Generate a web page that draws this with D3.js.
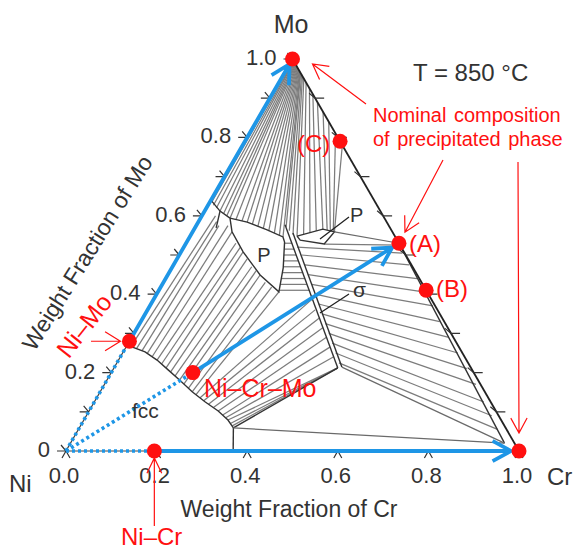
<!DOCTYPE html>
<html>
<head>
<meta charset="utf-8">
<script src="https://cdn.jsdelivr.net/npm/d3@7"></script>
<style>
  body { margin: 0; background: #fff; }
  svg { font-family: "Liberation Sans", Arial, sans-serif; }
</style>
</head>
<body>
<svg width="576" height="551"></svg>
<script>
// compositions are [Cr fraction, Mo fraction]
const crTicks = [0, 0.2, 0.4, 0.6, 0.8, 1.0];
const crTickLabels = ['0.0', '0.2', '0.4', '0.6', '0.8', '1.0'];
const moTicks = [0, 0.1, 0.2, 0.3, 0.4, 0.5, 0.6, 0.7, 0.8, 0.9, 1.0];
const moLabelTicks = [0, 0.2, 0.4, 0.6, 0.8, 1.0];
const moTickLabels = ['0', '0.2', '0.4', '0.6', '0.8', '1.0'];
const edgeTicks = [0.1, 0.2, 0.3, 0.4, 0.5, 0.6, 0.7, 0.8, 0.9];

// phase boundaries
const fccBoundary = [[0, 0.27], [0.048, 0.253], [0.085, 0.232], [0.122, 0.207], [0.163, 0.179],
  [0.203, 0.151], [0.245, 0.125], [0.285, 0.102], [0.318, 0.079], [0.34, 0.059]];
const fccBottom = [[0.34, 0.059], [0.369, 0]];
const fccBcc = [[0.34, 0.059], [0.958, 0.02]];
const pLeft = [[0.065, 0.594], [0.108, 0.584], [0.162, 0.564], [0.206, 0.546], [0.216, 0.533],
  [0.246, 0.467], [0.267, 0.406], [0.204, 0.449], [0.137, 0.508], [0.087, 0.559], [0.065, 0.594]];
const pRight = [[0.236, 0.548], [0.284, 0.566], [0.313, 0.559], [0.306, 0.528], [0.248, 0.538], [0.236, 0.548]];
const muStrip = [[0, 0.64], [0.034, 0.612], [0.065, 0.594]];
const muStrip2 = [[0.034, 0.612], [0.047, 0.569]];
const sigmaLeft = [[0.195, 0.577], [0.494, 0.212]];
const sigmaRight = [[0.223, 0.556], [0.502, 0.214]];
const sigmaFcc = [[0.494, 0.212], [0.34, 0.059]];
const sigmaBcc = [[0.502, 0.214], [0.958, 0.02]];
const bccBoundary = [[0.47, 0.53], [0.958, 0.02]];
const pRightBcc = [[0.313, 0.559], [0.47, 0.53]];

// tie lines [cr1, mo1, cr2, mo2]
const apexTies = [
  [0.003, 0.997, 0.004, 0.635], [0.005, 0.995, 0.012, 0.627], [0.006, 0.994, 0.022, 0.62],
  [0.008, 0.992, 0.034, 0.612], [0.01, 0.99, 0.045, 0.606], [0.012, 0.988, 0.055, 0.6],
  [0.014, 0.986, 0.065, 0.594], [0.016, 0.984, 0.08, 0.59], [0.018, 0.982, 0.095, 0.587],
  [0.02, 0.98, 0.108, 0.584], [0.022, 0.978, 0.122, 0.579], [0.024, 0.976, 0.137, 0.573],
  [0.026, 0.974, 0.152, 0.567], [0.028, 0.972, 0.167, 0.561], [0.03, 0.97, 0.182, 0.556],
  [0.032, 0.968, 0.196, 0.55], [0.034, 0.966, 0.206, 0.546], [0.036, 0.964, 0.2, 0.572],
  [0.04, 0.96, 0.212, 0.562], [0.044, 0.956, 0.225, 0.552], [0.05, 0.95, 0.236, 0.548],
  [0.06, 0.94, 0.248, 0.553], [0.075, 0.925, 0.26, 0.557], [0.09, 0.91, 0.272, 0.561],
  [0.11, 0.89, 0.284, 0.566], [0.135, 0.865, 0.295, 0.563], [0.16, 0.84, 0.303, 0.561],
  [0.19, 0.81, 0.31, 0.56], [0.22, 0.78, 0.313, 0.559]
];
const fccTies = [
  [0.01, 0.267, 0.03, 0.6], [0.025, 0.262, 0.04, 0.585], [0.04, 0.256, 0.05, 0.575],
  [0.055, 0.249, 0.07, 0.575], [0.07, 0.241, 0.087, 0.559], [0.085, 0.232, 0.11, 0.53],
  [0.1, 0.222, 0.125, 0.52], [0.115, 0.212, 0.137, 0.508], [0.13, 0.202, 0.155, 0.49],
  [0.145, 0.191, 0.175, 0.47], [0.16, 0.181, 0.19, 0.46], [0.175, 0.171, 0.204, 0.449],
  [0.19, 0.16, 0.225, 0.43], [0.203, 0.151, 0.245, 0.418], [0.215, 0.144, 0.267, 0.406],
  [0.228, 0.136, 0.35, 0.388], [0.24, 0.128, 0.37, 0.36], [0.255, 0.119, 0.39, 0.34],
  [0.27, 0.111, 0.41, 0.315], [0.285, 0.102, 0.43, 0.29], [0.3, 0.092, 0.45, 0.265],
  [0.31, 0.085, 0.47, 0.24], [0.318, 0.079, 0.494, 0.212], [0.328, 0.07, 0.494, 0.212],
  [0.335, 0.064, 0.494, 0.212]
];
const ladderTies = [
  [0.217, 0.53, 0.234, 0.53], [0.224, 0.515, 0.246, 0.515], [0.231, 0.5, 0.258, 0.5],
  [0.238, 0.485, 0.27, 0.485], [0.245, 0.47, 0.283, 0.47], [0.25, 0.455, 0.295, 0.455],
  [0.255, 0.44, 0.307, 0.44], [0.26, 0.425, 0.319, 0.425], [0.266, 0.41, 0.332, 0.41]
];
const bccTies = [
  [0.306, 0.528, 0.475, 0.525], [0.25, 0.52, 0.49, 0.505], [0.27, 0.5, 0.52, 0.475],
  [0.29, 0.475, 0.555, 0.44], [0.31, 0.45, 0.59, 0.405], [0.33, 0.425, 0.625, 0.37],
  [0.35, 0.4, 0.66, 0.33], [0.37, 0.375, 0.7, 0.29], [0.39, 0.35, 0.74, 0.25],
  [0.41, 0.325, 0.78, 0.21], [0.43, 0.3, 0.82, 0.17], [0.45, 0.275, 0.86, 0.125],
  [0.47, 0.25, 0.895, 0.09], [0.49, 0.225, 0.925, 0.055]
];

// alloy paths and nominal compositions
const niPoint = [0, 0];
const niMo = [0, 0.28];
const niCr = [0.195, 0];
const niCrMo = [0.18, 0.2];
const moPoint = [0, 1];
const crPoint = [1, 0];
const phaseA = [0.47, 0.53];
const phaseB = [0.59, 0.41];
const phaseC = [0.21, 0.79];
const redDots = [moPoint, phaseC, phaseA, phaseB, crPoint, niMo, niCr, niCrMo];

const svg = d3.select('svg');
const xScale = d3.scaleLinear().domain([0, 1]).range([66, 519]);
const yScale = d3.scaleLinear().domain([0, 1]).range([451, 59]);
const P = d => [xScale(d[0] + d[1] / 2), yScale(d[1])];
const line = d3.line();
const poly = pts => line(pts.map(P));

const BLUE = '#1e96e6', RED = '#ff1010', INK = '#333';

// tie lines
const ties = svg.append('g').attr('stroke', '#7c7c7c').attr('stroke-width', 1.25).attr('fill', 'none');
[apexTies, fccTies, ladderTies, bccTies].forEach(set => {
  ties.selectAll(null).data(set).enter().append('path')
    .attr('d', d => poly([[d[0], d[1]], [d[2], d[3]]]));
});

// phase boundaries
const bounds = svg.append('g').attr('stroke', '#333').attr('stroke-width', 1.4).attr('fill', 'none');
[fccBoundary, fccBottom, pLeft, pRight, muStrip, muStrip2, sigmaLeft, sigmaRight, sigmaFcc, bccBoundary]
  .forEach(b => bounds.append('path').attr('d', poly(b)));
[fccBcc, sigmaBcc, pRightBcc].forEach(b =>
  bounds.append('path').attr('d', poly(b)).attr('stroke', '#6a6a6a').attr('stroke-width', 1.2));

// triangle
svg.append('path').attr('d', poly([moPoint, niPoint, crPoint]))
  .attr('fill', 'none').attr('stroke', '#444').attr('stroke-width', 1.2);
svg.append('path').attr('d', poly([moPoint, crPoint]))
  .attr('fill', 'none').attr('stroke', '#222').attr('stroke-width', 1.8);

// ticks
const tickG = svg.append('g').attr('stroke', INK).attr('stroke-width', 1.2).attr('fill', 'none');
tickG.selectAll(null).data(crTicks).enter().append('path')
  .attr('d', c => { const [x, y] = P([c, 0]); return `M${x - 4},${y + 7}L${x},${y}L${x + 4},${y + 7}`; });
tickG.selectAll(null).data(moTicks).enter().append('path')
  .attr('d', m => { const [x, y] = P([0, m]); return `M${x - 9},${y}L${x},${y}M${x},${y}L${x - 5},${y - 6}`; });
tickG.selectAll(null).data(edgeTicks).enter().append('path')
  .attr('d', m => { const [x, y] = P([1 - m, m]); return `M${x + 9},${y}L${x},${y}L${x - 6},${y - 5}`; });

const txt = svg.append('g').attr('fill', INK);
txt.selectAll(null).data(crTicks).enter().append('text')
  .attr('x', c => P([c, 0])[0] - 2).attr('y', 483)
  .attr('text-anchor', 'middle').attr('font-size', 22)
  .text((c, i) => crTickLabels[i]);
txt.selectAll(null).data(moLabelTicks).enter().append('text')
  .attr('x', m => P([0, m])[0] - 16).attr('y', m => P([0, m])[1] + 6)
  .attr('text-anchor', 'end').attr('font-size', 22)
  .text((m, i) => moTickLabels[i]);

// blue alloy paths
function arrow(g, a, b, len, ang, color, width, shorten) {
  const t = Math.atan2(b[1] - a[1], b[0] - a[0]);
  const x2 = b[0] - shorten * Math.cos(t), y2 = b[1] - shorten * Math.sin(t);
  const p = d3.path();
  p.moveTo(a[0], a[1]); p.lineTo(x2, y2);
  p.moveTo(x2 - len * Math.cos(t - ang), y2 - len * Math.sin(t - ang));
  p.lineTo(x2, y2);
  p.lineTo(x2 - len * Math.cos(t + ang), y2 - len * Math.sin(t + ang));
  g.append('path').attr('d', p.toString()).attr('fill', 'none')
    .attr('stroke', color).attr('stroke-width', width)
    .attr('stroke-linejoin', 'miter').attr('stroke-linecap', 'butt');
}
const blue = svg.append('g');
[niMo, niCrMo, niCr].forEach(d => {
  blue.append('path').attr('d', poly([niPoint, d])).attr('fill', 'none')
    .attr('stroke', BLUE).attr('stroke-width', 3.6).attr('stroke-dasharray', '3,3');
});
arrow(blue, P(niMo), P(moPoint), 21, 0.5, BLUE, 3.8, 6);
arrow(blue, P(niCrMo), P(phaseA), 21, 0.5, BLUE, 3.8, 8);
arrow(blue, P(niCr), P(crPoint), 21, 0.5, BLUE, 3.8, 8);

// red annotation arrows
const red = svg.append('g');
const pMo = P(moPoint), pA = P(phaseA), pCr = P(crPoint), pNiCr = P(niCr), pNiMo = P(niMo);
arrow(red, [366, 104], [pMo[0] + 20, pMo[1] + 5], 17, 0.5, RED, 1.2, 0);
arrow(red, [443, 160], [pA[0] + 6, pA[1] - 11], 17, 0.5, RED, 1.2, 0);
arrow(red, [518, 162], [pCr[0], pCr[1] - 18], 17, 0.5, RED, 1.2, 0);
arrow(red, [pNiCr[0], 526], [pNiCr[0], pNiCr[1] + 7], 17, 0.45, RED, 1.2, 0);
arrow(red, [91, pNiMo[1]], [pNiMo[0] - 9, pNiMo[1]], 18, 0.55, RED, 1.2, 0);

// red dots
svg.append('g').selectAll('circle').data(redDots).enter().append('circle')
  .attr('cx', d => P(d)[0]).attr('cy', d => P(d)[1]).attr('r', 7.5).attr('fill', RED);

// labels
const labels = svg.append('g');
const addText = (x, y, s, size, color, anchor) => labels.append('text')
  .attr('x', x).attr('y', y).attr('font-size', size).attr('fill', color)
  .attr('text-anchor', anchor || 'start').text(s);

addText(291, 33, 'Mo', 25, INK, 'middle');
addText(9, 492, 'Ni', 24, INK);
addText(547, 485, 'Cr', 24, INK);
addText(289, 517, 'Weight Fraction of Cr', 23, INK, 'middle');
labels.append('text').attr('transform', 'translate(94,257) rotate(-58)')
  .attr('text-anchor', 'middle').attr('font-size', 23).attr('fill', INK)
  .text('Weight Fraction of Mo');
addText(413, 81, 'T = 850 °C', 24, INK);
addText(132, 418, 'fcc', 21, INK);
addText(264, 262, 'P', 20, INK, 'middle');
addText(350, 222, 'P', 20, INK);
addText(353, 297, 'σ', 21, INK);

// leaders for P and sigma
labels.append('path').attr('d', 'M349,217L320,239M349,294L320,313')
  .attr('stroke', '#222').attr('stroke-width', 1.3).attr('fill', 'none');

addText(373, 122, 'Nominal composition', 20, RED).attr('word-spacing', 2);
addText(373, 146, 'of precipitated phase', 20, RED).attr('word-spacing', 2);
addText(297, 152, '(C)', 24, RED);
addText(409, 252, '(A)', 24, RED);
addText(436, 297, '(B)', 24, RED);
addText(204, 397, 'Ni–Cr–Mo', 25, RED);
addText(121, 545, 'Ni–Cr', 24, RED);
labels.append('text').attr('transform', 'translate(91,331) rotate(-52)')
  .attr('text-anchor', 'middle').attr('font-size', 25).attr('fill', RED)
  .text('Ni–Mo');
</script>
</body>
</html>
